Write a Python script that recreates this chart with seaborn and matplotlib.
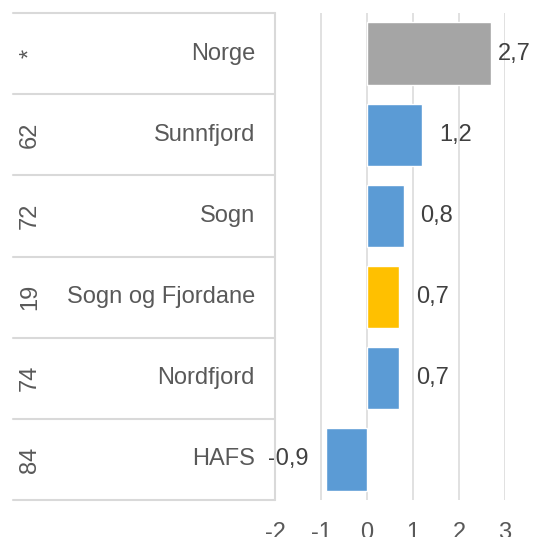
import pandas as pd
import seaborn as sns
import matplotlib.pyplot as plt

# Data
codes = ['*', '62', '72', '19', '74', '84']
regions = ['Norge', 'Sunnfjord', 'Sogn', 'Sogn og Fjordane', 'Nordfjord', 'HAFS']
values = [2.7, 1.2, 0.8, 0.7, 0.7, -0.9]
bar_colors = ['#A5A5A5', '#5B9BD5', '#5B9BD5', '#FFC000', '#5B9BD5', '#5B9BD5']
xticks = [-2, -1, 0, 1, 2, 3]

df = pd.DataFrame({'Region': regions, 'Value': values})

sns.set_theme(style='white')
plt.rcParams['font.family'] = ['Liberation Sans', 'DejaVu Sans']

W, H = 535, 537
fig = plt.figure(figsize=(W / 100, H / 100), dpi=100)
grid_col = '#D9D9D9'
text_col = '#595959'
fs = 17

# main bar axes
ax = fig.add_axes([275 / W, 1 - 500 / H, 230 / W, 487 / H])
sns.barplot(data=df, x='Value', y='Region', hue='Region', palette=bar_colors,
            width=0.77, legend=False, saturation=1, ax=ax)
ax.set_xlim(-2, 3)
ax.set_ylim(5.5, -0.5)
ax.set_xticks(xticks)
ax.set_xticklabels([str(t) for t in xticks])
ax.set_yticks([])
ax.set_xlabel('')
ax.set_ylabel('')
ax.tick_params(axis='x', length=0, pad=16, labelsize=fs, labelcolor=text_col)
ax.grid(axis='x', color=grid_col, lw=1.1)
ax.set_axisbelow(True)
for s in ax.spines.values():
    s.set_visible(False)

# value labels, comma decimal
for i, cont in enumerate(ax.containers):
    v = values[i]
    pad = 5 if i == 0 else 12
    ax.bar_label(cont, labels=[f'{v:.1f}'.replace('.', ',')], padding=pad,
                 fontsize=fs, color='#404040')

# left table
tab = fig.add_axes([13 / W, 1 - 500 / H, 262 / W, 487 / H])
tab.set_xlim(0, 262)
tab.set_ylim(5.5, -0.5)
tab.axis('off')
for k in range(len(regions) + 1):
    tab.plot([0, 262], [k - 0.5, k - 0.5], color=grid_col, lw=1.5, clip_on=False)
tab.plot([262, 262], [-0.5, 5.5], color=grid_col, lw=1.5, clip_on=False)
for i, (c, r) in enumerate(zip(codes, regions)):
    tab.text(6, i, c, rotation=90, ha='left', va='center', fontsize=fs, color=text_col)
    tab.text(242, i, r, ha='right', va='center', fontsize=fs, color=text_col)

fig.savefig('out.png', dpi=100)
